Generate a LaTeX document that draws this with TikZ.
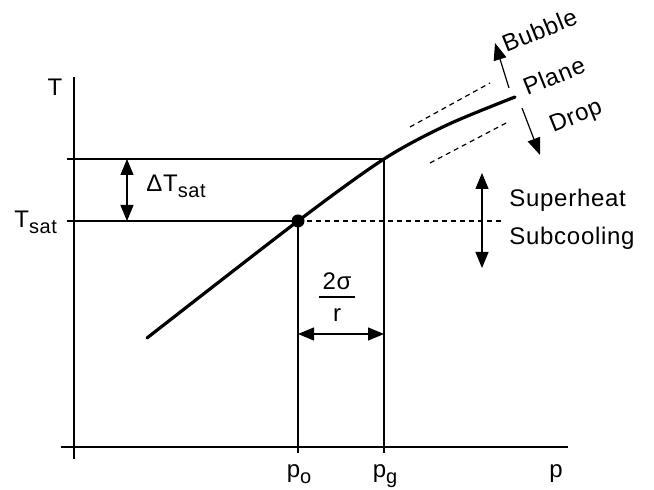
\documentclass[tikz,border=0pt]{standalone}
\usepackage{fontspec}
\setmainfont{Liberation Sans}[LetterSpace=3]
\usepackage{amsmath}
\usetikzlibrary{arrows.meta,positioning}
\newcommand{\lowsub}[1]{\raisebox{-0.45ex}{\fontsize{10}{11}\selectfont #1}}
\tikzstyle{axis}=[line width=0.8pt]
\tikzstyle{guide}=[line width=0.6pt]
\tikzstyle{curve}=[line width=1.6pt,line cap=round]
\tikzstyle{dsh}=[line width=0.6pt,dash pattern=on 2.5pt off 2pt]
\tikzstyle{dim}=[line width=0.6pt,{Triangle[length=8pt,width=6.5pt]}-{Triangle[length=8pt,width=6.5pt]}]
\tikzstyle{dir}=[line width=0.6pt,-{Triangle[length=8.5pt,width=6.5pt]}]
\tikzstyle{lbl}=[inner sep=0pt,font=\fontsize{12}{14}\selectfont]
\tikzstyle{satdot}=[circle,fill,inner sep=0pt,minimum size=6.5pt]

\begin{document}
\begin{tikzpicture}[x=0.5pt,y=-0.5pt]
\useasboundingbox (0,0) rectangle (654,490);
% axes
\coordinate (ytop) at (74,77);
\coordinate (ybot) at (74,459);
\coordinate (xl) at (61,447);
\coordinate (xr) at (568,447);
\draw[axis] (ytop) -- (ybot);
\draw[axis] (xl) -- (xr);
\node[lbl, anchor=base] (Tlab) at (55,96) {T};
\node[lbl, anchor=base] (plab) at (556,478) {p};
% saturation curve
\node[satdot] (po) at (298,221) {};
\coordinate (pg) at (384,159);
\coordinate (c1) at (147,338);
\coordinate (c3) at (447,125);
\coordinate (c4) at (515,97);
\draw[curve] plot[smooth,tension=0.5] coordinates {(c1) (po.center) (pg) (c3) (c4)};
% guide lines
\coordinate (Tg0) at (67,159);
\coordinate (Ts0) at (67,221);
\coordinate (Ts1) at (502,221);
\coordinate (pob) at (298,453);
\coordinate (pgb) at (384,453);
\draw[guide] (Tg0) -- (pg);
\draw[guide] (Ts0) -- (po.center);
\draw[dsh] (po.center) -- (Ts1);
\draw[guide] (po.center) -- (pob);
\draw[guide] (pg) -- (pgb);
\node[lbl, anchor=base west] (Tsat) at (14,228) {T\lowsub{sat}};
\node[lbl, anchor=base] (polab) at (299,478) {p\lowsub{o}};
\node[lbl, anchor=base] (pglab) at (385,478) {p\lowsub{g}};
% delta T
\coordinate (dT0) at (127,159);
\coordinate (dT1) at (127,221);
\draw[dim] (dT0) -- (dT1);
\node[lbl, anchor=base west] (dTlab) at (146,192) {ΔT\lowsub{sat}};
% 2 sigma / r
\coordinate (sr0) at (298,334);
\coordinate (sr1) at (384,334);
\draw[dim] (sr0) -- (sr1);
\node[lbl] (frac) at (337,300) {\setlength{\arrayrulewidth}{0.9pt}\begin{tabular}{@{\,}c@{\,}}2σ\\[-1pt]\hline\noalign{\vskip2pt}r\end{tabular}};
% parallel planes
\coordinate (u0) at (410,127);
\coordinate (u1) at (490,83);
\coordinate (d0) at (430,163);
\coordinate (d1) at (508,122);
\draw[dsh] (u0) -- (u1);
\draw[dsh] (d0) -- (d1);
\coordinate (b0) at (509,88);
\coordinate (b1) at (495,43);
\coordinate (r0) at (522,108);
\coordinate (r1) at (540,155);
\draw[dir] (b0) -- (b1);
\draw[dir] (r0) -- (r1);
\node[lbl, anchor=base west, rotate=22] (bub) at (506,53) {Bubble};
\node[lbl, anchor=base west, rotate=22] (pln) at (527,96) {Plane};
\node[lbl, anchor=base west, rotate=22] (drp) at (553,133) {Drop};
% superheat / subcooling
\coordinate (sh0) at (482,173);
\coordinate (sh1) at (482,268);
\draw[dim] (sh0) -- (sh1);
\node[lbl, anchor=base west] (shlab) at (509,207) {Superheat};
\node[lbl, anchor=base west] (sclab) at (509,245) {Subcooling};
\end{tikzpicture}
\end{document}
